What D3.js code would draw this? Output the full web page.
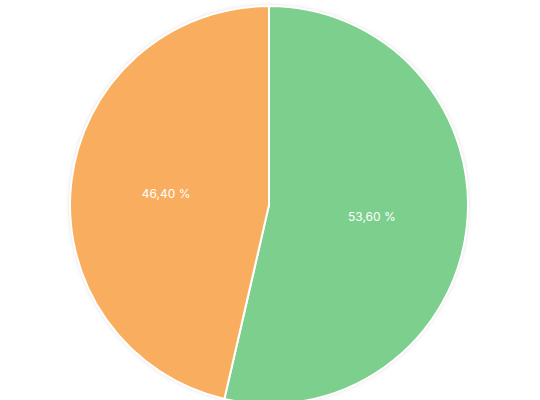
<!DOCTYPE html>
<html>
<head>
<meta charset="utf-8">
<script src="https://cdn.jsdelivr.net/npm/d3@7"></script>
<style>
  body { margin: 0; background: #fff; }
  svg { display: block; }
</style>
</head>
<body>
<svg></svg>
<script>
var width = 540;
var height = 400;

// slice data
var labels = ['B', 'A'];
var values = [53.6, 46.4];
var colors = ['#7ccf8d', '#f9ad5f'];

var cx = 269, cy = 205, radius = 199;

var svg = d3.select('svg')
    .attr('width', width)
    .attr('height', height);

var defs = svg.append('defs');
var filter = defs.append('filter')
    .attr('id', 'shadow')
    .attr('x', '-10%').attr('y', '-10%')
    .attr('width', '120%').attr('height', '120%');
filter.append('feDropShadow')
    .attr('dx', 0).attr('dy', 0)
    .attr('stdDeviation', 2)
    .attr('flood-color', '#000')
    .attr('flood-opacity', 0.18);

var pie = d3.pie().sort(null).value(function(d) { return d; });
var arcs = pie(values);

var arc = d3.arc().innerRadius(0).outerRadius(radius);
var labelArc = d3.arc().innerRadius(radius * 0.52).outerRadius(radius * 0.52);

var g = svg.append('g')
    .attr('transform', 'translate(' + cx + ',' + cy + ')');

g.append('circle')
    .attr('r', radius)
    .attr('fill', '#fff')
    .attr('filter', 'url(#shadow)');

g.selectAll('path')
    .data(arcs)
    .enter()
    .append('path')
    .attr('d', arc)
    .attr('fill', function(d, i) { return colors[i]; })
    .attr('stroke', '#fff')
    .attr('stroke-width', 2);

g.selectAll('text')
    .data(arcs)
    .enter()
    .append('text')
    .attr('transform', function(d) { return 'translate(' + labelArc.centroid(d) + ')'; })
    .attr('text-anchor', 'middle')
    .attr('dy', '0.35em')
    .attr('fill', '#fff')
    .style('font-family', 'Inter, "Noto Sans", sans-serif')
    .style('font-size', '12px')
    .text(function(d) { return d3.format('.2f')(d.value).replace('.', ',') + ' %'; });
</script>
</body>
</html>
